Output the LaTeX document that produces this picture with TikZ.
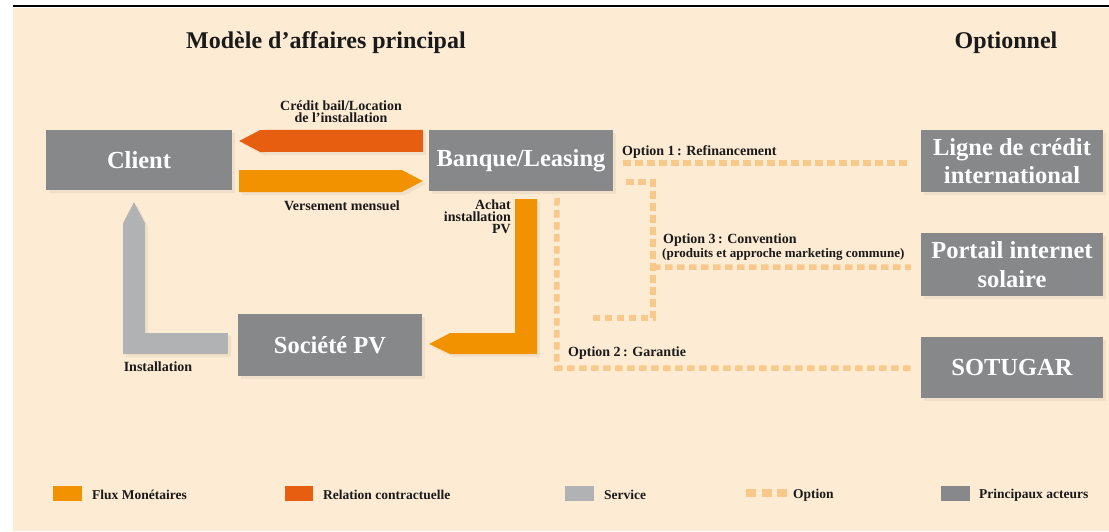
\documentclass[tikz,border=0pt]{standalone}
\usepackage{fontspec}
\setmainfont{Liberation Serif}
\usetikzlibrary{calc,shadows}
\definecolor{bgc}{HTML}{FDEBD3}
\definecolor{actorc}{HTML}{87888A}
\definecolor{servc}{HTML}{B1B2B4}
\definecolor{moneyc}{HTML}{F39200}
\definecolor{contrc}{HTML}{E85E10}
\definecolor{optc}{HTML}{F9C98B}
\definecolor{txtc}{HTML}{1A1A1A}
\begin{document}
\begin{tikzpicture}[x=1pt,y=-1pt,
  actor/.style={fill=actorc, text=white, font=\bfseries\fontsize{24.5}{28.5}\selectfont,
     inner sep=0pt, align=center, minimum width=183pt, minimum height=61pt,
     drop shadow={opacity=0.10, shadow xshift=3pt, shadow yshift=-3pt}},
  lbl/.style={font=\bfseries\fontsize{14}{12}\selectfont, text=txtc, inner sep=0pt},
  head/.style={font=\bfseries\fontsize{24}{26}\selectfont, text=txtc, inner sep=0pt},
  leg/.style={font=\bfseries\fontsize{13.5}{14}\selectfont, text=txtc, inner sep=0pt, anchor=west},
  dashline/.style={draw=optc, line width=5.5pt, dash pattern=on 7.5pt off 4.5pt},
  blockshadow/.style={drop shadow={opacity=0.10, shadow xshift=3pt, shadow yshift=-3pt}},
]
\useasboundingbox (0,0) rectangle (1109,531);
\fill[white] (0,0) rectangle (1109,531);
\fill[bgc] (13,8) rectangle (1109,531);
\draw[line width=2.5pt] (13,6) -- (1109,6);

% headings
\node[head] (h1) at (326,43) {Modèle d’affaires principal};
\node[head] (h2) at (1006,43) {Optionnel};

% actors
\node[actor, minimum width=186pt, minimum height=60pt] (client) at (139,160) {Client};
\node[actor, minimum width=184pt] (bank) at (521,160.5) {Banque/Leasing};
\node[actor, minimum width=184pt, minimum height=62pt] (soc) at (330,345) {Société PV};
\node[actor, minimum width=182pt, minimum height=62pt] (ligne) at (1012,161) {Ligne de crédit\\international};
\node[actor, minimum width=182pt, minimum height=63pt] (portail) at (1012,264.5) {Portail internet\\solaire};
\node[actor, minimum width=182pt, minimum height=61pt] (sotugar) at (1012,367.5) {SOTUGAR};

% red arrow: bank -> client
\fill[contrc, blockshadow]
  ($(bank.north west)+(-6,0)$) -- ($(client.east)+(28,-30)$) -- ($(client.east)+(7,-19)$)
  -- ($(client.east)+(28,-8)$) -- ($(bank.north west)+(-6,22)$) -- cycle;
% orange arrow: client -> bank
\fill[moneyc, blockshadow]
  ($(client.east)+(7,10)$) -- ($(bank.west)+(-27,9.5)$) -- ($(bank.west)+(-6,20.5)$)
  -- ($(bank.west)+(-27,31.5)$) -- ($(client.east)+(7,32)$) -- cycle;
% orange L arrow: bank -> Societe PV
\fill[moneyc, blockshadow]
  ($(bank.south)+(-6,8)$) -- ($(bank.south)+(16,8)$) -- ($(soc.east)+(115,9)$)
  -- ($(soc.east)+(28,9)$) -- ($(soc.east)+(7,-1)$) -- ($(soc.east)+(28,-12)$)
  -- ($(bank.south)+(-6,142)$) -- cycle;
% gray L arrow: Societe PV -> client
\fill[servc, blockshadow]
  ($(soc.west)+(-10,9)$) -- ($(client.south)+(-16,164)$) -- ($(client.south)+(-16,33)$)
  -- ($(client.south)+(-5,12)$) -- ($(client.south)+(6,33)$) -- ($(client.south)+(6,143)$)
  -- ($(soc.west)+(-10,-12)$) -- cycle;

% flow labels
\node[lbl, align=center] (lcredit) at (341,112) {Crédit bail/Location\\de l’installation};
\node[lbl] (lvers) at (342,206) {Versement mensuel};
\node[lbl, align=right, anchor=north east] (lachat) at (511,200) {Achat\\installation\\PV};
\node[lbl] (linst) at (158,367) {Installation};

% options (dashed)
\coordinate (o1s) at ($(bank.east)+(10,2.5)$);
\draw[dashline] (o1s) -- ($(o1s -| ligne.west)+(-10,0)$);
\draw[dashline] ($(bank.south east)+(13,-9)$) -- ++(27,0) coordinate (c3)
   -- ($(c3)+(0,136)$) -- ++(-65,0);
\draw[dashline] ($(c3)+(0,85)$) -- ($(portail.west)+(-10,2.5)$);
\draw[dashline] ($(bank.south)+(36,7)$) -- ($(sotugar.west)+(-364,0.5)$) -- ($(sotugar.west)+(-10,0.5)$);

\node[lbl, anchor=west] (lo1) at (622,152) {Option 1\,: Refinancement};
\node[lbl, anchor=west] (lo3) at (663,240) {Option 3\,: Convention};
\node[font=\bfseries\fontsize{13}{12}\selectfont, text=txtc, inner sep=0pt, anchor=west] (lo3b) at (662,254) {(produits et approche marketing commune)};
\node[lbl, anchor=west] (lo2) at (568,353) {Option 2\,: Garantie};

% legend
\fill[moneyc] (53,486) rectangle (82,501);
\node[leg] (g1) at (92,495) {Flux Monétaires};
\fill[contrc] (285,486) rectangle (313,501);
\node[leg] (g2) at (323,495) {Relation contractuelle};
\fill[servc] (565,486) rectangle (594,501);
\node[leg] (g3) at (604,495) {Service};
\draw[optc, line width=8pt, dash pattern=on 10pt off 5.5pt] (746,493) -- (788,493);
\node[leg] (g4) at (793,495) {Option};
\fill[actorc] (941,486) rectangle (970,501);
\node[leg] (g5) at (979,495) {Principaux acteurs};
\end{tikzpicture}
\end{document}
